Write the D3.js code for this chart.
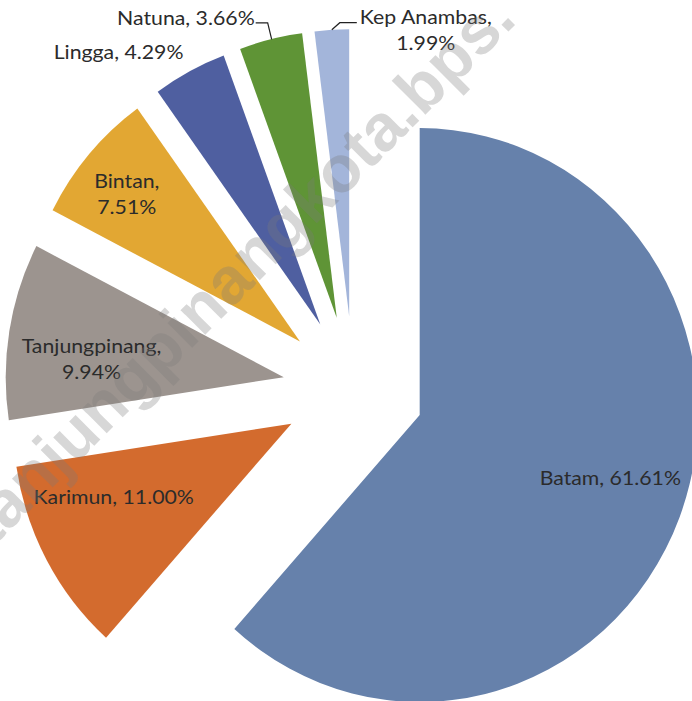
<!DOCTYPE html>
<html>
<head>
<meta charset="utf-8">
<script src="https://cdn.jsdelivr.net/npm/d3@7"></script>
<style>
  html, body { margin: 0; padding: 0; background: #fff; }
  svg { display: block; }
</style>
</head>
<body>
<svg id="chart" width="692" height="701"></svg>
<script>
// ---- data ----
const categories = ["Batam", "Karimun", "Tanjungpinang", "Bintan", "Lingga", "Natuna", "Kep Anambas"];
const values = [61.61, 11.00, 9.94, 7.51, 4.29, 3.66, 1.99];
const labelText = ["Batam, 61.61%", "Karimun, 11.00%", "Tanjungpinang,|9.94%", "Bintan,|7.51%", "Lingga, 4.29%", "Natuna, 3.66%", "Kep Anambas,|1.99%"];
const colors = ["#6681ab", "#d36b2e", "#9c948f", "#e2a733", "#4f5fa0", "#5f9436", "#a3b5da"];
const watermarkText = "tanjungpinangkota.bps.";

// ---- layout / style ----
const cx = 353.6, cy = 389;
const sxPie = 0.969;           // slight horizontal squeeze of the pie
const R = 287;
const explode = 73;
// inside labels: [radius factor, angle offset in degrees]
const labelPolar = [[0.72, -3.1], [0.688, 6.6], [0.694, -4.2], [0.807, -1.2]];

const svg = d3.select("#chart");
const pieG = svg.append("g").attr("transform", `translate(${cx},${cy}) scale(${sxPie},1)`);
const labelG = svg.append("g");

const pie = d3.pie().sort(null).value(d => d.value).startAngle(0).endAngle(2 * Math.PI);
const arcs = pie(categories.map((c, i) => ({ name: c, value: values[i], label: labelText[i], color: colors[i] })));
const arc = d3.arc().innerRadius(0).outerRadius(R);

function dirOf(a) { return [Math.sin(a), -Math.cos(a)]; }
function toScreen(x, y) { return [cx + sxPie * x, cy + y]; }

pieG.selectAll("path.slice").data(arcs).enter().append("path")
  .attr("class", "slice")
  .attr("transform", d => {
    const [dx, dy] = dirOf((d.startAngle + d.endAngle) / 2);
    return `translate(${dx * explode},${dy * explode})`;
  })
  .attr("d", arc)
  .attr("fill", d => d.data.color);

const fontFam = "Lato, 'Open Sans', sans-serif";
const textColor = "#2b2b2b";
const fs = 18.5, lh = 26, sxText = 1.15;

function addLabel(x, y, lines, anchor) {
  const t = labelG.append("g").attr("transform", `translate(${x},${y}) scale(${sxText},1)`)
    .append("text")
    .attr("font-family", fontFam).attr("font-size", fs).attr("fill", textColor)
    .attr("text-anchor", anchor);
  lines.forEach((ln, k) => {
    t.append("tspan").attr("x", 0).attr("y", k * lh).text(ln);
  });
}

arcs.forEach((d, i) => {
  const m = (d.startAngle + d.endAngle) / 2;
  const [ex, ey] = dirOf(m);
  const apx = ex * explode, apy = ey * explode;
  const lines = d.data.label.split("|");
  if (i < 4) {
    const [rf, off] = labelPolar[i];
    const a = m + off * Math.PI / 180;
    const [dx, dy] = dirOf(a);
    const [x, y] = toScreen(apx + dx * R * rf, apy + dy * R * rf);
    const y0 = y - (lines.length - 1) * lh / 2 + 6.5;
    addLabel(x, y0, lines, "middle");
  } else {
    const [ox, oy] = toScreen(apx + ex * R, apy + ey * R);
    if (d.data.name === "Lingga") {
      addLabel(ox - 6, oy - 12.5, lines, "end");
    } else if (d.data.name === "Natuna") {
      const ly = oy - 16.5;
      labelG.append("path").attr("fill", "none").attr("stroke", "#222").attr("stroke-width", 1.2)
        .attr("d", `M${ox + 1},${oy} L${ox - 3},${ly} L${ox - 15},${ly}`);
      addLabel(ox - 16, ly + 2, lines, "end");
    } else {
      const ly = oy - 7;
      labelG.append("path").attr("fill", "none").attr("stroke", "#222").attr("stroke-width", 1.2)
        .attr("d", `M${ox},${oy} L${ox + 8},${ly} L${ox + 25},${ly}`);
      addLabel(ox + 94, ly + 1, lines, "middle");
    }
  }
});

// watermark
svg.append("text")
  .attr("transform", "translate(-8,548) rotate(-45)")
  .attr("font-family", "'Liberation Sans', Arial, sans-serif")
  .attr("font-weight", "bold")
  .attr("font-size", 66)
  .attr("fill", "#7a7a7a")
  .attr("fill-opacity", 0.3)
  .text(watermarkText);
</script>
</body>
</html>
